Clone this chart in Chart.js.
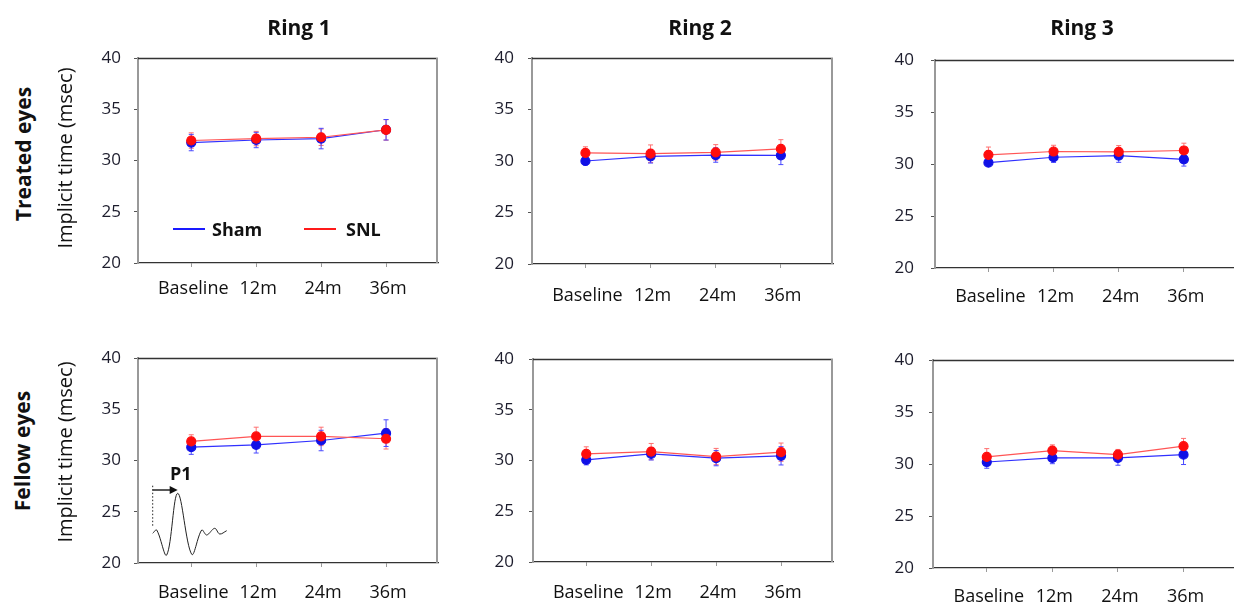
<!DOCTYPE html>
<html>
<head>
<meta charset="utf-8">
<script src="https://cdn.jsdelivr.net/npm/chart.js@4.4.1/dist/chart.umd.min.js"></script>
<style>
  html, body { margin: 0; padding: 0; background: #fff; width: 1234px; height: 607px; overflow: hidden; }
  body { position: relative; font-family: 'Open Sans', sans-serif; color: #111; }
  .abs { position: absolute; white-space: nowrap; line-height: 1; }
  .title { font-weight: bold; font-size: 21px; transform: translate(-50%, -50%); }
  .row { transform: translate(-50%, -50%) rotate(-90deg); }
  .row.bold { font-weight: bold; font-size: 21px; }
  .row.reg { font-size: 20px; }
  .leg-line { position: absolute; height: 2px; }
  .leg-text { font-weight: bold; font-size: 18px; transform: translateY(-50%); }
</style>
</head>
<body>
<script>
// categories and tick labels
const categories = ['Baseline', '12m', '24m', '36m'];
const yTicks = [20, 25, 30, 35, 40];

// Ring 1, treated eyes
const r1TreatedSham = [31.75, 32.0, 32.14, 33.0];
const r1TreatedShamErr = [0.8, 0.75, 1.0, 1.0];
const r1TreatedSnl = [31.95, 32.14, 32.27, 32.98];
const r1TreatedSnlErr = [0.75, 0.7, 0.8, 1.0];

// Ring 2, treated eyes
const r2TreatedSham = [30.0, 30.45, 30.58, 30.55];
const r2TreatedShamErr = [0.4, 0.65, 0.7, 0.9];
const r2TreatedSnl = [30.78, 30.71, 30.84, 31.17];
const r2TreatedSnlErr = [0.6, 0.85, 0.75, 0.9];

// Ring 3, treated eyes
const r3TreatedSham = [30.13, 30.65, 30.81, 30.45];
const r3TreatedShamErr = [0.35, 0.5, 0.65, 0.65];
const r3TreatedSnl = [30.88, 31.2, 31.17, 31.3];
const r3TreatedSnlErr = [0.75, 0.6, 0.6, 0.7];

// Ring 1, fellow eyes
const r1FellowSham = [31.3, 31.53, 31.95, 32.67];
const r1FellowShamErr = [0.7, 0.8, 1.0, 1.3];
const r1FellowSnl = [31.86, 32.35, 32.35, 32.12];
const r1FellowSnlErr = [0.65, 0.9, 0.9, 1.0];

// Ring 2, fellow eyes
const r2FellowSham = [30.07, 30.65, 30.23, 30.46];
const r2FellowShamErr = [0.5, 0.6, 0.75, 0.9];
const r2FellowSnl = [30.65, 30.88, 30.39, 30.82];
const r2FellowSnlErr = [0.7, 0.8, 0.8, 0.9];

// Ring 3, fellow eyes
const r3FellowSham = [30.19, 30.58, 30.58, 30.9];
const r3FellowShamErr = [0.6, 0.55, 0.7, 0.95];
const r3FellowSnl = [30.68, 31.29, 30.9, 31.71];
const r3FellowSnlErr = [0.8, 0.55, 0.5, 0.75];

// P1 waveform sketch (time, amplitude) for the inset
const waveT = [0, 4, 14, 25, 39, 49, 54, 62, 67, 74];
const waveA = [21.7, 25, 0, 61.7, 0.7, 25, 20, 26.7, 21, 24.3];

Chart.defaults.font.family = "'Open Sans', sans-serif";

// canvas margins round each plot box (top margin must exceed label half-height + padding)
const YW = 70, PT = 32, PR = 10, XH = 50;
const yFont = { family: "'Open Sans', sans-serif", size: 17 };
const xFont = { family: "'Open Sans', sans-serif", size: 18 };

// draws error bars under the points
const errorBars = {
  id: 'errorBars',
  beforeDatasetsDraw(chart) {
    const ctx = chart.ctx, ys = chart.scales.y;
    chart.data.datasets.forEach((ds, di) => {
      if (!ds.errors) return;
      const meta = chart.getDatasetMeta(di);
      ctx.save();
      ctx.strokeStyle = ds.errColor;
      ctx.lineWidth = 1;
      meta.data.forEach((pt, i) => {
        const v = ds.data[i].y, e = ds.errors[i];
        const y1 = ys.getPixelForValue(v + e), y2 = ys.getPixelForValue(v - e);
        ctx.beginPath();
        ctx.moveTo(pt.x, y1); ctx.lineTo(pt.x, y2);
        ctx.moveTo(pt.x - 2.5, y1); ctx.lineTo(pt.x + 2.5, y1);
        ctx.moveTo(pt.x - 2.5, y2); ctx.lineTo(pt.x + 2.5, y2);
        ctx.stroke();
      });
      ctx.restore();
    });
  }
};

// top and right border of the plot box
const frame = {
  id: 'frame',
  afterDraw(chart) {
    const { ctx, chartArea: a } = chart;
    ctx.save();
    ctx.lineWidth = 1.3;
    ctx.strokeStyle = '#333';
    ctx.beginPath(); ctx.moveTo(a.left, a.top + 0.5); ctx.lineTo(a.right, a.top + 0.5); ctx.stroke();
    ctx.lineWidth = 2;
    ctx.strokeStyle = '#999';
    ctx.beginPath(); ctx.moveTo(a.right - 1, a.top); ctx.lineTo(a.right - 1, a.bottom); ctx.stroke();
    ctx.restore();
  }
};

function toPoints(vals) {
  return vals.map((v, i) => ({ x: i, y: v }));
}

function makePanel(p) {
  const canvas = document.createElement('canvas');
  const w = (p.R - p.L) + YW + PR, h = (p.B - p.T) + PT + XH;
  canvas.width = w; canvas.height = h;
  canvas.style.cssText = `position:absolute;left:${p.L - YW}px;top:${p.T - PT}px;width:${w}px;height:${h}px`;
  document.body.appendChild(canvas);

  new Chart(canvas.getContext('2d'), {
    type: 'line',
    data: {
      datasets: [
        {
          label: 'SNL', data: toPoints(p.snl), errors: p.snlErr, errColor: '#ff7070',
          borderColor: '#ff5555', borderWidth: 1.2, tension: 0,
          pointRadius: 4.5, pointBackgroundColor: '#ff0d0d', pointBorderColor: '#ff0d0d'
        },
        {
          label: 'Sham', data: toPoints(p.sham), errors: p.shamErr, errColor: '#4a4aff',
          borderColor: '#3030ff', borderWidth: 1.2, tension: 0,
          pointRadius: 4.5, pointBackgroundColor: '#1010e6', pointBorderColor: '#1010e6'
        }
      ]
    },
    options: {
      responsive: false,
      animation: false,
      events: [],
      layout: { padding: { top: PT, right: PR, left: 0, bottom: 0 } },
      plugins: { legend: { display: false }, tooltip: { enabled: false } },
      scales: {
        x: {
          type: 'linear', min: -0.82, max: 3.8,
          afterFit: s => { s.height = XH; },
          afterBuildTicks: s => { s.ticks = categories.map((c, i) => ({ value: i })); },
          ticks: {
            callback: v => categories[v], font: xFont, color: '#111',
            padding: p.xPad, autoSkip: false, maxRotation: 0, labelOffset: 2
          },
          grid: { drawOnChartArea: false, tickLength: 4, color: '#9a9a9a' },
          border: { color: '#333', width: 1.3 }
        },
        y: {
          min: 20, max: 40,
          afterFit: s => { s.width = YW; },
          afterBuildTicks: s => { s.ticks = yTicks.map(v => ({ value: v })); },
          ticks: { font: yFont, color: '#1c1c2c', padding: p.yPad },
          grid: { drawOnChartArea: false, tickLength: 4, color: '#555' },
          border: { color: '#999', width: 2 }
        }
      }
    },
    plugins: [errorBars, frame]
  });
}

const panels = [
  { L: 138, T: 58, R: 438, B: 263, xPad: 11, yPad: 13, sham: r1TreatedSham, shamErr: r1TreatedShamErr, snl: r1TreatedSnl, snlErr: r1TreatedSnlErr },
  { L: 532, T: 58, R: 833, B: 264, xPad: 17, yPad: 14, sham: r2TreatedSham, shamErr: r2TreatedShamErr, snl: r2TreatedSnl, snlErr: r2TreatedSnlErr },
  { L: 935, T: 60, R: 1236, B: 268, xPad: 14, yPad: 17, sham: r3TreatedSham, shamErr: r3TreatedShamErr, snl: r3TreatedSnl, snlErr: r3TreatedSnlErr },
  { L: 138, T: 358, R: 438, B: 563, xPad: 15, yPad: 13, sham: r1FellowSham, shamErr: r1FellowShamErr, snl: r1FellowSnl, snlErr: r1FellowSnlErr },
  { L: 533, T: 359, R: 833, B: 562, xPad: 16, yPad: 15, sham: r2FellowSham, shamErr: r2FellowShamErr, snl: r2FellowSnl, snlErr: r2FellowSnlErr },
  { L: 933, T: 360, R: 1236, B: 568, xPad: 14, yPad: 15, sham: r3FellowSham, shamErr: r3FellowShamErr, snl: r3FellowSnl, snlErr: r3FellowSnlErr }
];
panels.forEach(makePanel);

// P1 inset: waveform, dotted onset line and arrow
const p1Marker = { t: 0, top: 69.3, bottom: 28.3, arrowA: 65, arrowEnd: 25 };
const insetDeco = {
  id: 'insetDeco',
  afterDraw(chart) {
    const { ctx, scales: { x, y } } = chart;
    const x0 = x.getPixelForValue(p1Marker.t);
    ctx.save();
    ctx.strokeStyle = '#222';
    ctx.lineWidth = 1;
    ctx.setLineDash([1.5, 2]);
    ctx.beginPath();
    ctx.moveTo(x0, y.getPixelForValue(p1Marker.top));
    ctx.lineTo(x0, y.getPixelForValue(p1Marker.bottom));
    ctx.stroke();
    ctx.setLineDash([]);
    const ya = y.getPixelForValue(p1Marker.arrowA);
    const xe = x.getPixelForValue(p1Marker.arrowEnd);
    ctx.lineWidth = 1.5;
    ctx.beginPath(); ctx.moveTo(x0, ya); ctx.lineTo(xe - 6, ya); ctx.stroke();
    ctx.fillStyle = '#111';
    ctx.beginPath(); ctx.moveTo(xe, ya); ctx.lineTo(xe - 8, ya - 4); ctx.lineTo(xe - 8, ya + 4); ctx.closePath(); ctx.fill();
    ctx.restore();
  }
};
const inset = document.createElement('canvas');
inset.width = 92; inset.height = 100;
inset.style.cssText = 'position:absolute;left:148px;top:465px;width:92px;height:100px';
document.body.appendChild(inset);
new Chart(inset.getContext('2d'), {
  type: 'line',
  data: {
    datasets: [{
      data: waveT.map((t, i) => ({ x: t, y: waveA[i] })),
      borderColor: '#222', borderWidth: 1, pointRadius: 0, tension: 0.35
    }]
  },
  options: {
    responsive: false, animation: false, events: [],
    layout: { padding: 0 },
    plugins: { legend: { display: false }, tooltip: { enabled: false } },
    scales: {
      x: { type: 'linear', min: -4.7, max: 87.3, display: false },
      y: { min: -10, max: 90, display: false }
    }
  },
  plugins: [insetDeco]
});
</script>

<div class="abs title" style="left:299px;top:27px">Ring 1</div>
<div class="abs title" style="left:700px;top:27px">Ring 2</div>
<div class="abs title" style="left:1082px;top:27px">Ring 3</div>

<div class="abs row bold" style="left:23px;top:154px">Treated eyes</div>
<div class="abs row reg" style="left:65px;top:158px">Implicit time (msec)</div>
<div class="abs row bold" style="left:22px;top:451px">Fellow eyes</div>
<div class="abs row reg" style="left:65px;top:452px">Implicit time (msec)</div>

<div class="leg-line" style="left:173px;top:228px;width:32px;background:#1a1aff"></div>
<div class="abs leg-text" style="left:212px;top:229px">Sham</div>
<div class="leg-line" style="left:304px;top:228px;width:32px;background:#ff1a1a"></div>
<div class="abs leg-text" style="left:346px;top:229px">SNL</div>

<div class="abs" style="left:170px;top:464px;font-weight:bold;font-size:18px">P1</div>
</body>
</html>
